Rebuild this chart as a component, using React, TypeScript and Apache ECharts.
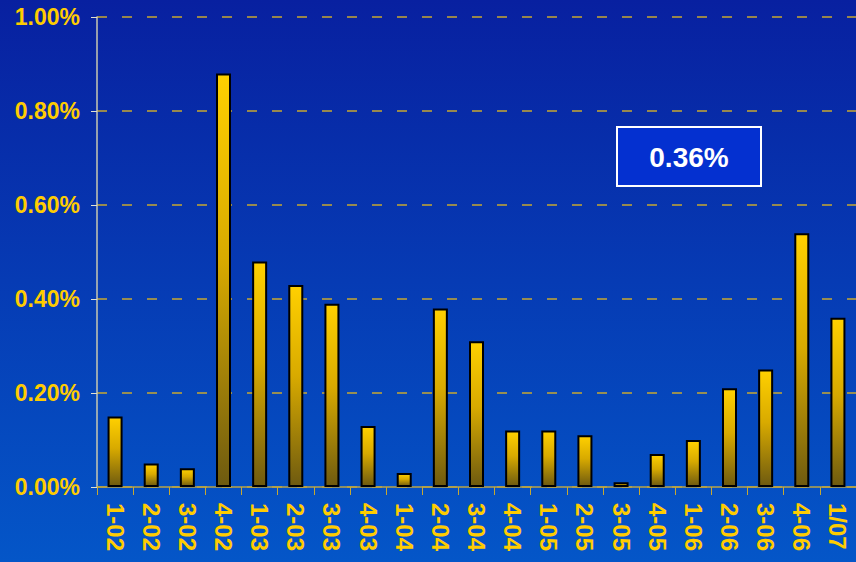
import React, { useEffect, useRef } from "react";
import * as echarts from "echarts";

// Quarterly rates (in %) by period
const categories = [
  "1-02", "2-02", "3-02", "4-02",
  "1-03", "2-03", "3-03", "4-03",
  "1-04", "2-04", "3-04", "4-04",
  "1-05", "2-05", "3-05", "4-05",
  "1-06", "2-06", "3-06", "4-06",
  "1/07",
];
const values = [
  0.15, 0.05, 0.04, 0.88,
  0.48, 0.43, 0.39, 0.13,
  0.03, 0.38, 0.31, 0.12,
  0.12, 0.11, 0.01, 0.07,
  0.10, 0.21, 0.25, 0.54,
  0.36,
];
const yTicks = [0, 0.2, 0.4, 0.6, 0.8, 1.0];
const calloutText = "0.36%";

const FONT = "'Liberation Sans', Arial, sans-serif";
const GOLD = "#ffcc00";

export default function App() {
  const ref = useRef<HTMLDivElement>(null);

  useEffect(() => {
    if (!ref.current) return;
    const chart = echarts.init(ref.current, null, { renderer: "svg" });
    chart.setOption({
      animation: false,
      backgroundColor: new echarts.graphic.LinearGradient(0, 0, 0, 1, [
        { offset: 0, color: "#0820a0" },
        { offset: 1, color: "#0456c8" },
      ]),
      grid: { left: 97, right: 0, top: 17, bottom: 75, containLabel: false },
      xAxis: {
        type: "category",
        data: categories,
        axisLine: { lineStyle: { color: "#b8a448", width: 1.5 } },
        axisTick: { show: true, length: 8, lineStyle: { color: "#c8a830" } },
        axisLabel: {
          rotate: -90,
          color: GOLD,
          fontFamily: FONT,
          fontWeight: "bold",
          fontSize: 24,
          margin: 16,
        },
      },
      yAxis: {
        type: "value",
        min: yTicks[0],
        max: yTicks[yTicks.length - 1],
        interval: 0.2,
        axisLine: { show: true, lineStyle: { color: "#c8c8b0", width: 1.5 } },
        axisTick: { show: true, length: 6, lineStyle: { color: "#e0e0d0" } },
        axisLabel: {
          color: GOLD,
          fontFamily: FONT,
          fontWeight: "bold",
          fontSize: 23,
          margin: 17,
          formatter: (v: number) => v.toFixed(2) + "%",
        },
        splitLine: {
          show: true,
          lineStyle: { color: "#c8a830", type: [10, 15], width: 1.6 },
        },
      },
      series: [
        {
          type: "bar",
          data: values,
          barWidth: 15,
          itemStyle: {
            color: new echarts.graphic.LinearGradient(0, 0, 0, 1, [
              { offset: 0, color: "#ffd000" },
              { offset: 0.45, color: "#d8aa00" },
              { offset: 1, color: "#6e5a10" },
            ]),
            borderColor: "#000000",
            borderWidth: 2,
          },
        },
      ],
      graphic: [
        {
          type: "group",
          left: 616,
          top: 126,
          children: [
            {
              type: "rect",
              shape: { x: 0, y: 0, width: 144, height: 59 },
              style: { fill: "#0430d0", stroke: "#ffffff", lineWidth: 2 },
            },
            {
              type: "text",
              x: 72,
              y: 30,
              style: {
                text: calloutText,
                fill: "#ffffff",
                font: `bold 28px ${FONT}`,
                align: "center",
                verticalAlign: "middle",
              },
            },
          ],
        },
      ],
    });
    return () => chart.dispose();
  }, []);

  return (
    <div
      ref={ref}
      style={{ position: "fixed", left: 0, top: 0, width: 856, height: 562 }}
    />
  );
}
